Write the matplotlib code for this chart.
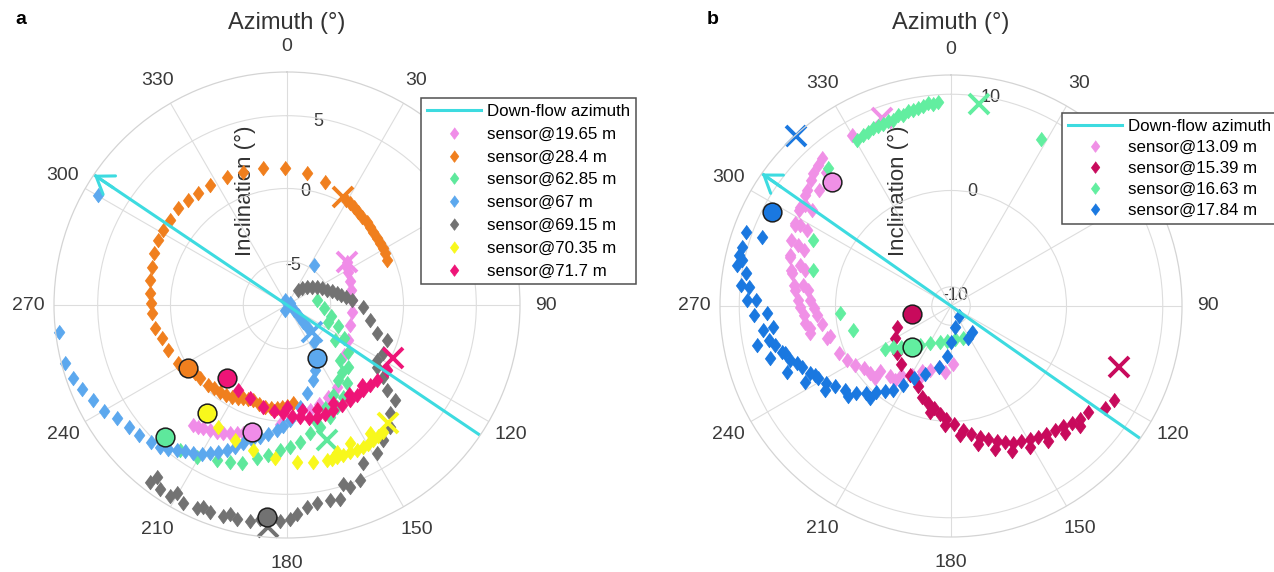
import numpy as np
import matplotlib.pyplot as plt

plt.rcParams['font.family'] = ['Liberation Sans', 'DejaVu Sans']

# ---------------- panel a : azimuth (deg), inclination (deg) ----------------
a_labels = ['sensor@19.65 m', 'sensor@28.4 m', 'sensor@62.85 m', 'sensor@67 m',
            'sensor@69.15 m', 'sensor@70.35 m', 'sensor@71.7 m']
a_colors = ['#f08ce8', '#f07f1e', '#5ee89c', '#5ca8ee', '#727272', '#f8f81c', '#ee1477']

a1_az = [54.4, 56.5, 61.6, 69.1, 76.8, 85.6, 96.1, 107.6, 119.8, 131.3, 148.6, 155.9, 162.1,
         167.6, 173.3, 183.4, 199.0, 201.3, 204.0, 206.6, 208.9, 211.6, 214.3, 216.1, 218.1]
a1_inc = [-2.95, -3.16, -3.25, -3.38, -3.50, -3.53, -3.52, -3.47, -3.18, -2.81, -1.42, -1.10, -0.88,
          -0.64, -0.34, 0.16, 1.27, 1.41, 1.60, 1.80, 1.93, 2.05, 2.20, 2.34, 2.44]

a2_az = [65.8, 62.0, 59.3, 56.3, 53.3, 49.7, 46.8, 43.9, 40.4, 37.4, 34.4, 31.7, 29.3,
         17.2, 8.6, 359.2, 350.1, 341.7, 334.9, 327.3, 321.5, 316.7, 311.7, 306.0, 301.2,
         296.7, 291.4, 285.7, 280.3, 275.0, 270.8, 266.6, 260.1, 255.2, 249.3, 242.0,
         233.5, 230.0, 224.6, 221.3, 217.6, 214.1, 210.9, 207.8, 205.3, 202.5, 199.7,
         195.8, 192.2, 188.8, 185.5, 182.8, 180.0, 176.5]
a2_inc = [-0.49, -0.40, -0.36, -0.34, -0.32, -0.27, -0.20, -0.10, -0.08, 0.01, 0.13, 0.21, 0.25,
          0.82, 1.14, 1.38, 1.53, 1.60, 1.68, 1.77, 1.80, 1.88, 1.99, 1.90, 1.93,
          1.89, 1.78, 1.60, 1.54, 1.42, 1.32, 1.26, 1.18, 0.86, 0.71, 0.46,
          -0.16, -0.22, -0.30, -0.43, -0.48, -0.55, -0.66, -0.80, -0.95, -1.03, -1.09,
          -0.95, -0.86, -0.86, -0.91, -1.00, -1.08, -1.27]

a3_az = [80.5, 94.6, 104.0, 112.4, 112.5, 120.1, 126.1, 127.6, 135.5, 136.1, 140.6, 142.4, 145.8,
         148.7, 152.9, 153.9, 159.0, 159.7, 164.9, 166.3, 169.8, 174.6, 178.8, 182.8, 187.2,
         191.1, 195.9, 200.0, 204.3, 210.6, 216.4]
a3_inc = [-5.92, -5.46, -4.89, -4.22, -4.96, -3.49, -3.93, -2.73, -2.04, -2.77, -2.06, -1.26, -1.79,
          -0.62, -1.08, -0.22, 0.22, -0.48, 0.66, 0.11, 0.90, 1.42, 1.73, 1.94, 2.36,
          2.68, 3.25, 3.44, 3.65, 4.10, 4.34]

a4_az = [56.0, 338.0, 125.5, 200.0, 132.3, 136.7, 137.6, 143.9, 156.7, 160.9, 167.2, 172.7, 178.5,
         181.9, 184.6, 188.4, 191.6, 194.5, 197.7, 200.1, 202.5, 205.1, 207.5, 209.7, 212.4,
         214.8, 217.2, 219.6, 221.8, 224.8, 228.7, 232.3, 236.5, 239.9, 244.0, 247.8, 251.2,
         255.4, 263.3, 300.2, 34.0]
a4_inc = [-7.75, -7.63, -7.41, -7.60, -6.98, -6.40, -5.87, -4.86, -3.15, -2.56, -1.82, -0.96, -0.12,
          0.29, 0.59, 0.93, 1.23, 1.55, 1.92, 2.36, 2.75, 3.12, 3.43, 3.75, 4.01,
          4.25, 4.47, 4.79, 5.05, 5.22, 5.49, 5.67, 6.04, 6.49, 6.86, 7.24, 7.49,
          7.72, 7.79, 6.98, -4.69]

a5_az = [36.3, 42.0, 48.0, 53.5, 59.0, 64.0, 69.4, 73.0, 76.5, 79.5, 82.3, 85.6, 91.5, 100.2,
         107.3, 109.3, 116.6, 121.4, 124.6, 126.9, 130.4, 131.3, 136.4, 139.8, 144.6, 148.7,
         154.3, 157.4, 160.9, 162.7, 164.8, 167.6, 171.4, 174.4, 177.3, 179.2, 181.8, 187.2,
         189.7, 193.1, 195.2, 196.8, 200.3, 202.6, 203.9, 207.7, 210.3, 211.4, 214.5, 217.1, 217.6]
a5_inc = [-6.73, -6.45, -6.16, -5.90, -5.60, -5.35, -5.08, -4.80, -4.48, -4.20, -3.92, -3.53, -2.79, -2.22,
          -1.54, -0.74, -0.65, -0.77, -0.51, 0.22, 0.99, 1.85, 2.22, 2.94, 3.35, 3.86,
          4.01, 4.99, 5.19, 4.91, 5.84, 5.68, 5.72, 5.97, 6.40, 6.73, 6.87, 6.84,
          7.08, 7.12, 6.90, 7.17, 7.19, 6.99, 7.21, 7.32, 6.92, 7.40, 7.37, 6.77, 7.38]

a6_az = [209.5, 201.1, 193.2, 184.5, 176.4, 170.6, 165.5, 163.7, 161.8, 161.2, 159.5, 156.8,
         155.5, 154.2, 151.8, 149.8, 147.5, 147.0, 145.2, 142.9]
a6_inc = [1.60, 1.91, 2.20, 2.51, 2.77, 2.90, 2.97, 2.99, 2.96, 2.64, 2.97, 2.95,
          2.39, 3.03, 3.03, 3.02, 2.97, 2.45, 2.92, 2.90]

a7_az = [210.0, 201.7, 193.2, 187.0, 182.1, 180.0, 177.4, 173.4, 172.0, 169.0, 165.0, 164.0,
         160.8, 156.3, 155.0, 151.2, 146.4, 145.0, 142.1, 138.2, 137.0, 133.9, 129.8, 123.0]
a7_inc = [-1.28, -1.14, -0.82, -0.69, -0.60, -1.00, -0.39, -0.28, -0.75, -0.12, -0.05, -0.60,
          -0.09, -0.15, -0.60, -0.18, -0.19, -0.55, -0.19, -0.19, -0.45, -0.10, 0.03, 0.17]

# first (circle) and last (cross) readings of each sensor, same order as the labels
a_start_az = [195.4, 237.5, 222.7, 150.5, 185.4, 216.5, 219.4]
a_start_inc = [1.02, 0.03, 4.31, -3.83, 6.65, 1.20, -1.53]
a_end_az = [54.4, 27.4, 163.5, 137.2, 184.9, 139.4, 116.6]
a_end_inc = [-2.95, 0.34, 1.64, -5.48, 7.33, 2.64, 0.12]
a_flow_az = 304

# ---------------- panel b ----------------
b_labels = ['sensor@13.09 m', 'sensor@15.39 m', 'sensor@16.63 m', 'sensor@17.84 m']
b_colors = ['#f090e6', '#c80a5c', '#62eea0', '#1a78e0']

b1_az = [329.9, 318.9, 317.0, 316.7, 313.9, 312.0, 311.3, 308.9, 307.2, 304.7, 304.6, 303.3,
         302.3, 298.2, 298.0, 297.8, 297.4, 292.5, 291.7, 290.9, 287.6, 286.9, 285.2, 283.9,
         282.7, 281.7, 278.1, 277.6, 276.4, 275.9, 272.4, 272.2, 269.6, 269.2, 266.5, 266.2,
         263.4, 262.1, 261.1, 259.2, 256.1, 255.5, 247.2, 242.6, 238.4, 234.5, 230.4, 227.5,
         226.5, 221.1, 217.1, 215.9, 209.5, 204.1, 204.0, 198.2, 191.1, 185.2, 178.0]
b1_inc = [8.58, 8.45, 7.09, 8.19, 7.97, 7.62, 6.30, 7.26, 7.10, 6.49, 5.60, 6.81,
          6.73, 5.85, 6.41, 4.96, 6.31, 5.94, 5.16, 4.39, 5.59, 5.53, 4.30, 3.67,
          5.08, 4.92, 3.57, 4.50, 2.99, 4.33, 2.70, 3.95, 3.73, 2.27, 3.34, 1.99,
          3.31, 1.56, 2.86, 2.96, 0.99, 1.34, 0.66, 0.21, -0.26, -0.87, -1.05, -1.97,
          -1.09, -2.33, -2.33, -3.12, -3.74, -4.58, -3.56, -4.98, -5.52, -5.10, -5.96]

b2_az = [248.7, 240.3, 229.0, 220.8, 210.7, 202.4, 197.7, 193.3, 191.2, 189.5, 185.8, 182.9,
         182.5, 178.5, 176.0, 174.5, 171.1, 168.9, 167.5, 164.5, 162.9, 161.2, 158.3, 157.2,
         155.7, 152.6, 150.7, 149.3, 146.4, 144.3, 143.4, 140.0, 138.1, 137.0, 134.0, 132.9,
         131.2, 127.7, 123.5, 120.0]
b2_inc = [-5.97, -5.28, -4.54, -4.02, -3.64, -2.99, -2.05, -1.61, -0.74, -1.23, -0.69, 0.41,
          -0.22, 0.29, 1.47, 0.98, 1.50, 2.65, 1.98, 2.38, 3.58, 2.85, 3.24, 4.39,
          3.67, 3.84, 4.83, 4.11, 4.38, 5.31, 4.60, 4.85, 5.78, 5.10, 5.53, 6.35,
          5.86, 6.04, 7.24, 7.60]

b3_az = [28.3, 354.9, 356.3, 353.5, 352.0, 350.5, 349.0, 347.5, 345.9, 344.4, 342.7, 341.2,
         339.4, 337.9, 336.3, 334.5, 332.8, 330.5, 318.3, 295.6, 284.6, 266.4, 256.2, 236.9,
         234.7, 230.6, 218.5, 209.6, 197.0, 186.5, 173.1, 159.4]
b3_inc = [7.76, 9.02, 9.19, 9.18, 9.03, 8.91, 8.79, 8.70, 8.51, 8.55, 8.29, 8.35,
          8.15, 8.23, 8.24, 8.08, 8.03, 7.87, 7.26, 3.94, 2.85, -0.42, -1.49, -3.79,
          -4.60, -5.26, -6.81, -7.57, -8.08, -8.33, -8.54, -8.44]

b4_az = [290.1, 289.9, 285.8, 283.6, 282.5, 280.9, 279.2, 275.7, 275.4, 271.8, 271.7, 267.8,
         267.4, 263.3, 262.7, 259.4, 258.6, 257.5, 254.8, 254.2, 254.0, 251.5, 249.7, 248.1,
         247.7, 244.6, 243.1, 242.5, 241.6, 238.4, 236.3, 235.4, 231.6, 228.9, 227.5, 224.3,
         221.4, 221.1, 217.8, 214.6, 211.3, 207.2, 200.9, 191.1, 184.6, 180.0, 169.2, 141.3,
         152.0, 141.1]
b4_inc = [8.96, 10.60, 10.62, 10.61, 10.19, 10.59, 9.53, 9.88, 9.03, 8.22, 9.16, 7.18,
          8.44, 6.67, 7.74, 7.19, 8.51, 6.78, 6.24, 5.97, 7.61, 5.69, 5.10, 6.42,
          4.77, 4.26, 3.89, 5.15, 3.75, 3.29, 3.77, 2.68, 2.08, 2.25, 1.42, 0.67,
          0.77, -0.11, -0.79, -1.37, -2.37, -3.57, -4.42, -5.52, -6.77, -8.25, -9.77, -10.67,
          -8.23, -8.52]

b_start_az = [316.2, 258.4, 223.6, 297.7]
b_start_inc = [5.9, -7.85, -6.1, 9.06]
b_end_az = [339.8, 110.0, 7.9, 317.6]
b_end_inc = [8.86, 6.61, 9.14, 11.9]
b_flow_az = 305

FLOW = '#3ddbe0'
DIAMOND = [(0, 1), (0.74, 0), (0, -1), (-0.74, 0)]
W, H = 1274, 572


def draw_panel(rect, rlim, rticks, rlabel_px, series, colors, labels,
               start, end, flow_az, leg_xy, leg_spacing):
    ax = fig.add_axes(rect, projection='polar')
    ax.set_theta_zero_location('N')
    ax.set_theta_direction(-1)
    ax.set_rlim(*rlim)
    # the 60 label sits under the legend in the original, so it is left blank
    tlabels = ['' if t == 60 else str(t) for t in range(0, 360, 30)]
    ax.set_thetagrids(range(0, 360, 30), labels=tlabels, fontsize=14, color='#3a3a3a')
    ax.set_rgrids(rticks, labels=['' for t in rticks])
    ax.tick_params(axis='x', pad=8)
    ax.grid(color='#dddddd', lw=0.8)
    ax.spines['polar'].set_color('#d4d4d4')
    ax.spines['polar'].set_linewidth(0.9)
    for t, (px, py) in zip(rticks, rlabel_px):
        ax.text(px / W, 1 - py / H, str(t), transform=fig.transFigure, ha='center',
                va='center', fontsize=13, color='#3a3a3a', zorder=1)

    # down-flow azimuth line through the centre, arrow at the flow end
    back = (flow_az + 180) % 360
    th = np.radians([back, back, flow_az, flow_az])
    flow_line, = ax.plot(th, [rlim[1], rlim[0], rlim[0], rlim[1]], color=FLOW, lw=2.2,
                         zorder=2.2, label='Down-flow azimuth')
    ax.annotate('', xy=(np.radians(flow_az), rlim[1]),
                xytext=(np.radians(flow_az), rlim[1] - 0.1 * (rlim[1] - rlim[0])),
                arrowprops=dict(arrowstyle='->,head_length=1.15,head_width=0.8',
                                color=FLOW, lw=2.2, shrinkA=0, shrinkB=0), zorder=2.2)

    # each sensor: its readings, then its last reading as a cross
    handles = [flow_line]
    for (az, inc), c, lab, e_az, e_inc in zip(series, colors, labels, end[0], end[1]):
        h, = ax.plot(np.radians(az), inc, ls='none', marker=DIAMOND, ms=10.5,
                     mfc=c, mec=c, mew=0.5, label=lab, clip_on=False, zorder=2)
        ax.plot(np.radians(e_az), e_inc, ls='none', marker='x', ms=14, mec=c, mew=2.8,
                clip_on=False, zorder=2)
        handles.append(h)
    # first readings on top
    for az, inc, c in zip(start[0], start[1], colors):
        ax.plot(np.radians(az), inc, ls='none', marker='o', ms=13.5, mfc=c,
                mec='#1e1e1e', mew=1.1, clip_on=False, zorder=4)

    leg = ax.legend(handles=handles, loc='upper left',
                    bbox_to_anchor=(leg_xy[0] / W, 1 - leg_xy[1] / H),
                    bbox_transform=fig.transFigure, fontsize=12.2, fancybox=False,
                    framealpha=1, edgecolor='#505050', borderaxespad=0,
                    labelspacing=leg_spacing, handlelength=3.2, handletextpad=0.35,
                    borderpad=0.35, numpoints=1, markerscale=0.8)
    leg.get_frame().set_linewidth(1.1)
    leg.set_zorder(6)
    return ax


fig = plt.figure(figsize=(W / 100, H / 100), dpi=100)

ax_a = draw_panel([54 / W, 34 / H, 466 / W, 466 / H], (-8, 8), [-5, 0, 5],
                  [(293, 266), (305, 192), (318, 122)],
                  [(a1_az, a1_inc), (a2_az, a2_inc), (a3_az, a3_inc), (a4_az, a4_inc),
                   (a5_az, a5_inc), (a6_az, a6_inc), (a7_az, a7_inc)],
                  a_colors, a_labels, (a_start_az, a_start_inc), (a_end_az, a_end_inc),
                  a_flow_az, (421, 98), 0.46)
ax_b = draw_panel([720 / W, 35 / H, 462 / W, 462 / H], (-12, 12), [-10, 0, 10],
                  [(955, 296), (972, 192), (991, 97)],
                  [(b1_az, b1_inc), (b2_az, b2_inc), (b3_az, b3_inc), (b4_az, b4_inc)],
                  b_colors, b_labels, (b_start_az, b_start_inc), (b_end_az, b_end_inc),
                  b_flow_az, (1062, 113), 0.36)

# axis titles
for ax, cx, iy in [(ax_a, 287, 245), (ax_b, 951, 898)]:
    fig.text(cx / W, 1 - 23 / H, 'Azimuth (°)', ha='center', va='center',
             fontsize=17, color='#333333')
    ax.text(iy / W, 1 - 191 / H, 'Inclination (°)', rotation=90, ha='center', va='center',
            fontsize=16, color='#333333', transform=fig.transFigure, zorder=1, clip_on=False)

fig.text(15 / W, 1 - 20 / H, 'a', fontsize=14, fontweight='bold', va='center')
fig.text(707 / W, 1 - 20 / H, 'b', fontsize=14, fontweight='bold', va='center')

fig.savefig('out.png', dpi=100)
